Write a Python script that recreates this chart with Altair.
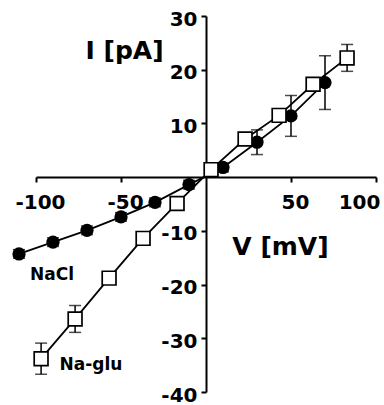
import altair as alt
import pandas as pd

# NaCl (filled circles)
nacl_v = [-110, -90, -70, -50, -30, -10, 10, 30, 50, 70]
nacl_i = [-14.3, -12.1, -9.9, -7.4, -4.7, -1.4, 1.8, 6.5, 11.4, 17.6]
nacl_err = [0.8, 0.8, 0.8, 0.8, 0.8, 0.8, 0.8, 2.3, 3.8, 5.0]

# Na-glu (open squares)
glu_v = [-97, -77, -57, -37, -17, 3, 23, 43, 63, 83]
glu_i = [-33.8, -26.4, -18.8, -11.4, -4.9, 1.4, 7.1, 11.5, 17.3, 22.2]
glu_err = [2.9, 2.5, 0.8, 0.8, 0.8, 0.8, 0.8, 0.8, 0.8, 2.5]

x_ticks = [-100, -50, 50, 100]
y_ticks = [-40, -30, -20, -10, 10, 20, 30]

def frame(v, i, e, name):
    return pd.DataFrame({"v": v, "i": i, "lo": [a - b for a, b in zip(i, e)],
                         "hi": [a + b for a, b in zip(i, e)], "s": name})

df_nacl = frame(nacl_v, nacl_i, nacl_err, "NaCl")
df_glu = frame(glu_v, glu_i, glu_err, "Na-glu")

FONT = "DejaVu Sans"

xs = alt.Scale(domain=[-100, 100], nice=False)
ys = alt.Scale(domain=[-40, 30], nice=False)

x_axis = alt.Axis(values=x_ticks, offset=-215, labelExpr="'' + datum.value",
                  labelPadding=10, labelBaseline="top",
                  labelOffset={"condition": {"test": "datum.value > 60", "value": -17}, "value": 4},
                  title="V [mV]", titleX=244, titleY=69, titleAlign="center",
                  titleBaseline="middle", titleFontSize=25)
y_axis = alt.Axis(values=y_ticks, offset=-170, labelExpr="'' + datum.value",
                  labelPadding=4, labelOffset=3,
                  title="I [pA]", titleAngle=0, titleX=-82, titleY=34,
                  titleAlign="center", titleBaseline="middle", titleFontSize=25)

X = alt.X("v:Q", scale=xs, axis=x_axis)
Y = alt.Y("i:Q", scale=ys, axis=y_axis)
Xn = alt.X("v:Q", scale=xs)
Yn = alt.Y("i:Q", scale=ys)


def series(df, marker):
    base = alt.Chart(df)
    line = base.mark_line(color="black", strokeWidth=1.8).encode(x=Xn, y=Yn)
    bar = base.mark_rule(color="black", strokeWidth=1.5).encode(
        x=Xn, y=alt.Y("lo:Q", scale=ys), y2="hi:Q")
    cap_lo = base.mark_tick(color="black", orient="horizontal", size=12, thickness=1.5).encode(
        x=Xn, y=alt.Y("lo:Q", scale=ys))
    cap_hi = base.mark_tick(color="black", orient="horizontal", size=12, thickness=1.5).encode(
        x=Xn, y=alt.Y("hi:Q", scale=ys))
    return [line, bar, cap_lo, cap_hi, marker]


nacl_pts = alt.Chart(df_nacl).mark_point(shape="circle", filled=True, color="black",
                                          size=175, opacity=1).encode(x=X, y=Y)
glu_pts = alt.Chart(df_glu).mark_point(shape="square", filled=True, fill="white",
                                        stroke="black", strokeWidth=1.7, size=190,
                                        opacity=1).encode(x=Xn, y=Yn)

nacl_lab = alt.Chart(pd.DataFrame({"t": ["NaCl"]})).mark_text(
    font=FONT, fontWeight="bold", fontSize=17, color="black").encode(
    text="t:N", x=alt.value(16), y=alt.value(259))
glu_lab = alt.Chart(pd.DataFrame({"t": ["Na-glu"]})).mark_text(
    font=FONT, fontWeight="bold", fontSize=17, color="black").encode(
    text="t:N", x=alt.value(55), y=alt.value(349))

layers = series(df_nacl, nacl_pts) + series(df_glu, glu_pts) + [nacl_lab, glu_lab]

chart = alt.layer(*layers).properties(
    width=340, height=376,
    autosize=alt.AutoSizeParams(type="none"),
    padding={"left": 36, "top": 16, "right": 8, "bottom": 13},
    background="white",
).configure_view(stroke=None).configure_axis(
    grid=False, domainColor="black", domainWidth=2, tickColor="black", tickWidth=2,
    tickSize=5, labelFont=FONT, labelFontWeight="bold", labelFontSize=20,
    labelColor="black", titleFont=FONT, titleFontWeight="bold", titleColor="black",
    labelFlush=False, labelOverlap=False,
)

chart.save("out.html", embed_options={"renderer": "svg", "actions": False})
